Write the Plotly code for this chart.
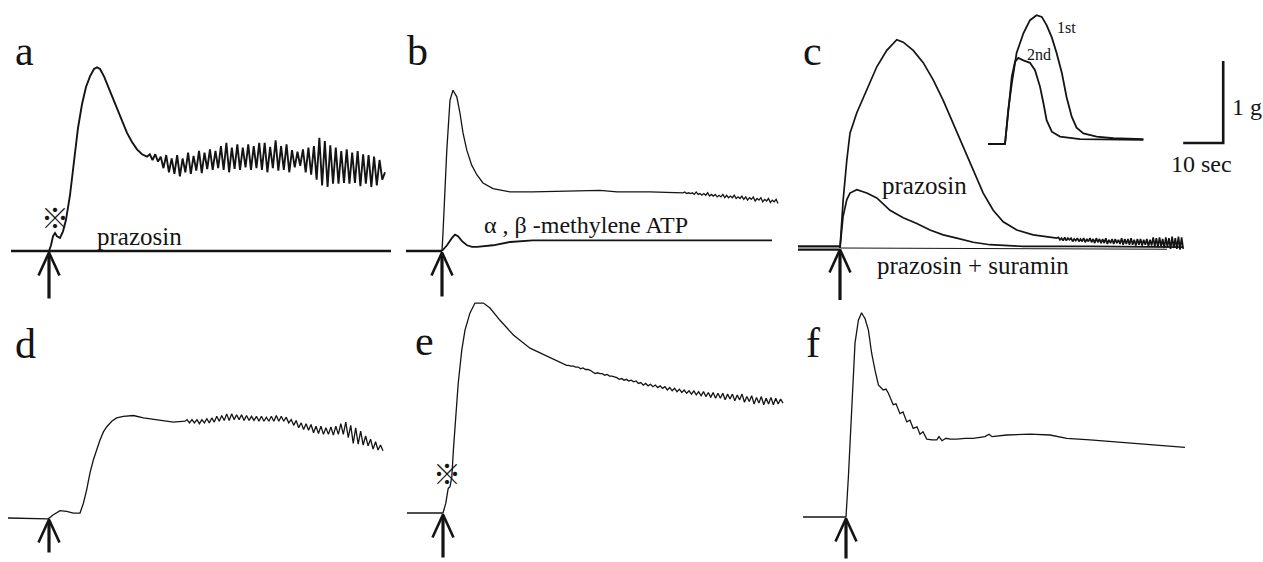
import numpy as np
import plotly.graph_objects as go

W, H = 1263, 562
PX_PER_S = 4.0    # chart speed: 10 sec bar = 40 px
PX_PER_G = 82.0   # 1 g bar = 82 px
STIM = 0.0        # stimulation time (arrow), s

# ---------------- data (time s, tension g above baseline) ----------------
# panel a
a_base_t = [-9.5, 85.5]
a_t = [0, 0.5, 1.0, 1.5, 2.0, 2.75, 3.5, 4.25, 5.25, 6.25, 7.25, 8.25, 9.25, 10.25, 11.25,
       12.0, 12.75, 13.75, 14.75, 15.75, 17.0, 18.25, 19.5, 20.75, 22.0, 23.25, 24.5]
a_g = [0, 0.07, 0.18, 0.22, 0.18, 0.16, 0.24, 0.38, 0.68, 1.11, 1.50, 1.79, 2.00, 2.13, 2.22,
       2.24, 2.22, 2.13, 2.01, 1.88, 1.72, 1.57, 1.44, 1.33, 1.24, 1.18, 1.15]
a_osc_span = [25.2, 84.0]
a_osc_g = [1.18, 1.11, 1.18, 1.09, 1.15, 1.01, 1.17, 0.96, 1.13, 0.94,
           1.17, 0.91, 1.13, 0.96, 1.20, 0.94, 1.16, 0.98, 1.22, 0.95,
           1.20, 1.00, 1.24, 0.99, 1.22, 1.01, 1.28, 0.99, 1.32, 0.96,
           1.26, 1.00, 1.30, 0.99, 1.26, 1.02, 1.30, 0.99, 1.28, 1.01,
           1.32, 0.99, 1.32, 0.96, 1.27, 1.01, 1.35, 0.98, 1.28, 0.99,
           1.30, 0.96, 1.23, 1.02, 1.21, 1.04, 1.24, 0.96, 1.26, 0.93,
           1.28, 0.87, 1.38, 0.80, 1.34, 0.78, 1.29, 0.82, 1.26, 0.82,
           1.22, 0.83, 1.24, 0.82, 1.20, 0.83, 1.22, 0.79, 1.18, 0.82,
           1.17, 0.78, 1.15, 0.80, 1.11, 0.87, 0.96]

# panel b
b_base_t = [-9.0, 0]
b_t = [0, 0.25, 1.2, 2.0, 2.75, 3.7, 4.5, 5.25, 6.2, 7.4, 8.7, 10.25, 12.75, 17, 22.75,
       29.5, 39.5, 43.75, 52, 60.25]
b_g = [0, 0.22, 1.23, 1.84, 1.96, 1.88, 1.68, 1.44, 1.23, 1.05, 0.93, 0.83, 0.76, 0.72, 0.72,
       0.73, 0.74, 0.72, 0.72, 0.71]
b_noise_span = [60.7, 84.0]
b_noise_g = [0.72, 0.70, 0.71, 0.70, 0.71, 0.69, 0.72, 0.69, 0.70, 0.68,
             0.70, 0.68, 0.71, 0.67, 0.69, 0.67, 0.69, 0.66, 0.68, 0.66,
             0.69, 0.65, 0.68, 0.65, 0.67, 0.65, 0.68, 0.64, 0.66, 0.64,
             0.67, 0.63, 0.66, 0.62, 0.65, 0.63, 0.66, 0.61, 0.64, 0.62,
             0.65, 0.60, 0.63, 0.61, 0.64, 0.59, 0.62, 0.60, 0.63, 0.58]
b_atp_t = [0, 1.25, 2.5, 3.25, 4.0, 5.0, 6.25, 7.5, 8.75, 10.75, 12.75, 17, 22.75, 39.5, 82.5]
b_atp_g = [0, 0.07, 0.16, 0.20, 0.18, 0.12, 0.07, 0.05, 0.05, 0.06, 0.07, 0.11, 0.13, 0.13, 0.13]

# panel c
c_base_t = [-10.5, 0]
c_ctrl_t = [0, 0.8, 1.7, 2.5, 4.2, 6.7, 9.2, 11.7, 14.2, 15.8, 18.3, 20.8, 23.3, 25.8, 28.3,
            30.8, 33.3, 35.8, 38.3, 40.8, 44.2, 48.3, 54.2]
c_ctrl_g = [0, 0.59, 1.07, 1.40, 1.65, 1.93, 2.21, 2.41, 2.54, 2.51, 2.41, 2.26, 2.05, 1.80, 1.52,
            1.23, 0.95, 0.67, 0.46, 0.32, 0.22, 0.16, 0.12]
c_noise_span = [54.6, 85.8]
c_noise_g = [0.13, 0.10, 0.12, 0.09, 0.13, 0.09, 0.12, 0.10, 0.12, 0.08,
             0.11, 0.09, 0.12, 0.08, 0.11, 0.08, 0.12, 0.07, 0.11, 0.08,
             0.12, 0.07, 0.11, 0.06, 0.12, 0.07, 0.11, 0.06, 0.11, 0.06,
             0.12, 0.05, 0.10, 0.06, 0.11, 0.05, 0.11, 0.06, 0.10, 0.05,
             0.12, 0.04, 0.11, 0.05, 0.11, 0.04, 0.12, 0.04, 0.10, 0.03,
             0.11, 0.04, 0.11, 0.03, 0.10, 0.04, 0.11, 0.02, 0.10, 0.03,
             0.13, 0.02, 0.12, 0.01, 0.13, 0.02, 0.11, 0.00, 0.13, 0.01,
             0.12, -0.01, 0.14, 0.00, 0.12, -0.01, 0.14, -0.02, 0.13, -0.01]
c_praz_t = [0, 0.75, 1.7, 2.5, 4.2, 6.7, 9.2, 12.5, 15.8, 19.2, 22.5, 25.8, 29.2, 33.3, 37.5,
            45.75, 62.5, 85.75]
c_praz_g = [0, 0.38, 0.59, 0.67, 0.71, 0.67, 0.61, 0.46, 0.37, 0.30, 0.22, 0.16, 0.12, 0.07, 0.04,
            0.02, 0.02, 0.01]
c_sur_t = [0, 81.75]
c_sur_g = [0, -0.015]
scale_corner = (95.8, 1.28)   # (s, g)
scale_len = (10, 1)           # 10 sec, 1 g

# inset (1st / 2nd application)
ins_1st_t = [-4.25, 0, 0.8, 1.7, 2.9, 4.6, 6.25, 7.9, 9.2, 10.4, 11.7, 12.9, 14.2, 15.4, 16.7,
             17.9, 19.6, 22.9, 27.1, 34.6]
ins_1st_g = [0, 0, 0.41, 0.74, 1.11, 1.35, 1.51, 1.57, 1.55, 1.45, 1.30, 1.11, 0.87, 0.57, 0.33,
             0.20, 0.13, 0.09, 0.07, 0.06]
ins_2nd_t = [0, 0.8, 1.7, 2.5, 3.3, 4.6, 6.25, 7.5, 8.75, 9.6, 10.4, 11.7, 13.75, 18.75, 27.1, 34.6]
ins_2nd_g = [0, 0.41, 0.82, 1.00, 1.05, 1.02, 0.99, 0.90, 0.70, 0.50, 0.29, 0.15, 0.09, 0.06, 0.05, 0.05]

# panel d
d_t = [-10.25, -0.2, 1.1, 2.75, 4.4, 6.1, 7.75, 8.6, 9.4, 10.25, 11.1, 11.9, 12.75, 13.6, 14.4,
       15.7, 16.9, 18.6, 21.1, 23.6, 26.9, 31.1, 34.0]
d_g = [0, -0.01, 0.04, 0.09, 0.08, 0.06, 0.06, 0.18, 0.34, 0.55, 0.71, 0.83, 0.95, 1.05, 1.11,
       1.18, 1.22, 1.24, 1.25, 1.22, 1.20, 1.17, 1.18]
d_osc_span = [34.5, 83.5]
d_osc_g = [1.20, 1.16, 1.20, 1.16, 1.20, 1.15, 1.20, 1.16, 1.21, 1.16,
           1.22, 1.17, 1.24, 1.18, 1.25, 1.19, 1.27, 1.19, 1.27, 1.20,
           1.26, 1.20, 1.26, 1.19, 1.25, 1.19, 1.24, 1.19, 1.24, 1.18,
           1.24, 1.18, 1.23, 1.18, 1.24, 1.18, 1.25, 1.18, 1.24, 1.18,
           1.23, 1.16, 1.20, 1.13, 1.19, 1.10, 1.16, 1.08, 1.15, 1.07,
           1.14, 1.04, 1.12, 1.03, 1.12, 1.02, 1.10, 1.02, 1.11, 1.01,
           1.12, 1.02, 1.15, 1.02, 1.17, 0.98, 1.13, 0.91, 1.10, 0.90,
           1.06, 0.89, 1.00, 0.88, 0.96, 0.84, 0.93, 0.83, 0.89, 0.82]

# panel e
e_t = [-9, 0, 0.7, 1.1, 1.3, 1.75, 2.2, 2.6, 3.2, 3.8, 4.7, 5.5, 6.75, 8, 10.1, 11.75, 14.25,
       17.6, 21.75, 26.75, 30.9]
e_g = [0, 0, 0.12, 0.24, 0.30, 0.32, 0.44, 0.77, 1.17, 1.58, 1.99, 2.23, 2.44, 2.56, 2.56, 2.50,
       2.35, 2.17, 2.01, 1.89, 1.80]
e_noise_span = [31.4, 85.0]
e_noise_g = [1.80, 1.79, 1.79, 1.78, 1.78, 1.76, 1.77, 1.75, 1.75, 1.74,
             1.72, 1.70, 1.71, 1.70, 1.70, 1.68, 1.69, 1.67, 1.67, 1.66,
             1.65, 1.63, 1.64, 1.62, 1.63, 1.61, 1.62, 1.60, 1.61, 1.58,
             1.59, 1.56, 1.58, 1.55, 1.57, 1.54, 1.56, 1.53, 1.55, 1.52,
             1.54, 1.50, 1.53, 1.49, 1.52, 1.48, 1.51, 1.47, 1.50, 1.46,
             1.49, 1.45, 1.49, 1.44, 1.48, 1.43, 1.48, 1.42, 1.47, 1.41,
             1.47, 1.40, 1.46, 1.40, 1.46, 1.38, 1.45, 1.39, 1.45, 1.37,
             1.44, 1.38, 1.45, 1.35, 1.42, 1.36, 1.43, 1.33, 1.41, 1.34,
             1.42, 1.32, 1.40, 1.33, 1.41, 1.32, 1.40, 1.33, 1.39, 1.34]

# panel f
f_t = [-10.75, 0, 0.6, 1.4, 2.25, 3.1, 3.9, 4.25, 4.75, 5.6, 6.4, 7.25, 8.1, 9.3, 10, 10.6, 11.8,
       12.5, 13.5, 14.25, 15.2, 16, 16.8, 17.75, 18.5, 19.25, 20.2, 21.5, 22.7, 23.25, 24, 25, 26,
       27.7, 29.75, 31.8, 34.75, 35.75, 36.5, 40.2, 46, 51, 55.2, 61, 69.3, 77.7, 84.75]
f_g = [0, 0, 0.49, 1.35, 2.12, 2.40, 2.49, 2.46, 2.42, 2.28, 2.00, 1.79, 1.61, 1.55, 1.56, 1.51,
       1.37, 1.38, 1.26, 1.28, 1.16, 1.18, 1.08, 1.10, 1.01, 1.04, 0.95, 0.94, 0.94, 0.98, 0.93,
       0.96, 0.95, 0.95, 0.96, 0.96, 0.98, 1.01, 0.98, 1.00, 1.01, 1.00, 0.96, 0.94, 0.91, 0.88, 0.85]

# ---------------- layout of panels (pixel boxes & trace origins) ----------------
panels = {
    1: dict(box=(0, 395, 0, 300), origin=(49, 251)),      # a
    2: dict(box=(395, 790, 0, 300), origin=(442, 251)),   # b
    3: dict(box=(790, 1263, 0, 300), origin=(840, 248)),  # c
    4: dict(box=(0, 395, 300, 562), origin=(49, 518)),    # d
    5: dict(box=(395, 790, 300, 562), origin=(443, 513)), # e
    6: dict(box=(790, 1263, 300, 562), origin=(846, 517)),# f
    7: dict(box=(980, 1160, 0, 160), origin=(1005, 144)), # inset
}

fig = go.Figure()
layout_axes = {}
for i, p in panels.items():
    L, R, T, B = p["box"]
    ox, oy = p["origin"]
    xs = "xaxis" if i == 1 else f"xaxis{i}"
    ys = "yaxis" if i == 1 else f"yaxis{i}"
    layout_axes[xs] = dict(domain=[L / W, R / W], range=[(L - ox) / PX_PER_S, (R - ox) / PX_PER_S],
                           visible=False, fixedrange=True, anchor="y" if i == 1 else f"y{i}")
    layout_axes[ys] = dict(domain=[1 - B / H, 1 - T / H], range=[(oy - B) / PX_PER_G, (oy - T) / PX_PER_G],
                           visible=False, fixedrange=True, anchor="x" if i == 1 else f"x{i}")

INK = "#141414"


def ax(i):
    return ("x", "y") if i == 1 else (f"x{i}", f"y{i}")


def line(i, t, g, width=1.3, color=INK):
    xa, ya = ax(i)
    fig.add_trace(go.Scatter(x=list(t), y=list(g), mode="lines", xaxis=xa, yaxis=ya, hoverinfo="skip",
                             line=dict(color=color, width=width, shape="linear")))


def joined(t, g, span, vals):
    """main trace followed by its noisy/oscillating tail (uniform time grid)."""
    return list(t) + list(np.linspace(span[0], span[1], len(vals))), list(g) + list(vals)


def stim_arrow(i, length_px):
    tip = -1.5 / PX_PER_G
    bottom = -(1.5 + length_px) / PX_PER_G
    hw = 10.5 / PX_PER_S
    hh = 23 / PX_PER_G
    line(i, [STIM, STIM], [tip - 3 / PX_PER_G, bottom], width=3.2)
    line(i, [STIM - hw, STIM, STIM + hw], [tip - hh, tip, tip - hh], width=2.6)


# panel a
line(1, a_base_t, [0, 0], width=2.6)
line(1, *joined(a_t, a_g, a_osc_span, a_osc_g), width=1.9)
stim_arrow(1, 46)

# panel b
line(2, b_base_t, [0, 0], width=2.4)
line(2, *joined(b_t, b_g, b_noise_span, b_noise_g), width=1.3)
line(2, b_atp_t, b_atp_g, width=1.8)
stim_arrow(2, 44)

# panel c
line(3, c_base_t, [0, 0], width=5.5)
line(3, c_base_t, [0, 0], width=1.2, color="white")
line(3, c_sur_t, c_sur_g, width=1.0)
line(3, c_praz_t, c_praz_g, width=1.7)
line(3, *joined(c_ctrl_t, c_ctrl_g, c_noise_span, c_noise_g), width=1.7)
sx, sy = scale_corner
line(3, [sx - scale_len[0], sx, sx], [sy, sy, sy + scale_len[1]], width=2.6)
stim_arrow(3, 51)

# inset
line(7, ins_1st_t, ins_1st_g, width=1.8)
line(7, ins_2nd_t, ins_2nd_g, width=1.8)

# panel d
line(4, *joined(d_t, d_g, d_osc_span, d_osc_g), width=1.3)
stim_arrow(4, 33)

# panel e
line(5, *joined(e_t, e_g, e_noise_span, e_noise_g), width=1.3)
stim_arrow(5, 43)

# panel f
line(6, f_t, f_g, width=1.3)
stim_arrow(6, 40)

# ---------------- text ----------------
SERIF = "Liberation Serif"


def txt(s, x, y, size, family=SERIF, xanchor="center"):
    return dict(text=s, x=x / W, y=1 - y / H, xref="paper", yref="paper", showarrow=False,
                xanchor=xanchor, yanchor="middle", font=dict(family=family, size=size, color=INK))


annotations = [
    txt("a", 24, 51, 42), txt("b", 417, 51, 42), txt("c", 812, 51, 42),
    txt("d", 25, 344, 42), txt("e", 424, 341, 42), txt("f", 813, 343, 42),
    txt("prazosin", 139, 236, 25),
    txt("\u03b1 , \u03b2 -methylene ATP", 586, 225, 24),
    txt("prazosin", 924, 186, 25),
    txt("prazosin + suramin", 973, 265, 25),
    txt("1st", 1066, 28, 16), txt("2nd", 1039, 55, 16),
    txt("1 g", 1247, 107, 24), txt("10 sec", 1201, 164, 24),
    txt("\u203b", 55, 217, 28, family="Noto Sans CJK JP"),
    txt("\u203b", 447, 473, 28, family="Noto Sans CJK JP"),
]

fig.update_layout(width=W, height=H, margin=dict(l=0, r=0, t=0, b=0, pad=0),
                  paper_bgcolor="white", plot_bgcolor="white", showlegend=False,
                  annotations=annotations, **layout_axes)

fig.write_html("out.html")
